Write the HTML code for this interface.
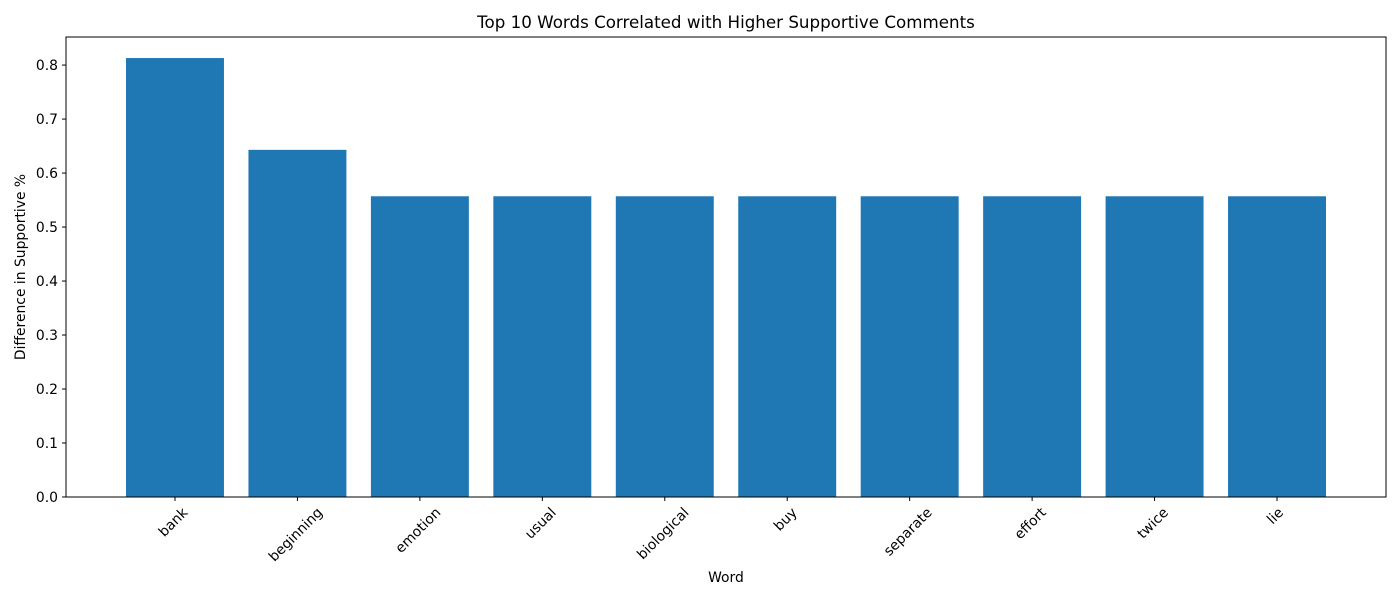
<!DOCTYPE html>
<html><head><meta charset="utf-8"><style>
body{margin:0;background:#fff;}
text{font-family:"DejaVu Sans","Liberation Sans",sans-serif;fill:#000;}
</style></head><body>
<svg id="chart" width="1400" height="600">
<rect width="1400" height="600" fill="#fff"/>
<text x="726" y="28" font-size="16.7" text-anchor="middle">Top 10 Words Correlated with Higher Supportive Comments</text>
<g id="bars"></g><g id="axes"></g>
<text x="726" y="582" font-size="13.9" text-anchor="middle">Word</text>
<text transform="translate(25,267) rotate(-90)" font-size="13.9" text-anchor="middle">Difference in Supportive %</text>
</svg>
<script>
const categories=["bank","beginning","emotion","usual","biological","buy","separate","effort","twice","lie"];
const values=[0.813,0.643,0.557,0.557,0.557,0.557,0.557,0.557,0.557,0.557];
const yTicks=[0,0.1,0.2,0.3,0.4,0.5,0.6,0.7,0.8];
const L=66,R=1386,T=37,B=497;
const xmin=-0.89,xmax=categories.length-1+0.89;
const ymax=0.852;
const ns="http://www.w3.org/2000/svg";
const xs=i=>L+(i-xmin)/(xmax-xmin)*(R-L);
const ys=v=>B-v/ymax*(B-T);
const step=(R-L)/(xmax-xmin);
const bars=document.getElementById('bars'),axes=document.getElementById('axes');
function mk(t,a,p){const e=document.createElementNS(ns,t);for(const k in a)e.setAttribute(k,a[k]);p.appendChild(e);return e;}
values.forEach((v,i)=>{
 const r=mk('rect',{x:xs(i)-0.4*step,y:ys(v),width:0.8*step,height:ys(0)-ys(v),fill:'#1f77b4'},bars);
 
 
 mk('line',{x1:xs(i),x2:xs(i),y1:B,y2:B+4,stroke:'#000'},axes);
 const t=mk('text',{x:0,y:4.8,'font-size':13.9,'text-anchor':'middle'},axes);
 t.textContent=categories[i];
 
 
 const w=t.getComputedTextLength(),h=13.9;
 const cy=B+8+(w+h)*0.3536;
 t.setAttribute('transform',`translate(${xs(i)-2},${cy}) rotate(-45)`);
});
yTicks.forEach(v=>{
 mk('line',{x1:L-4,x2:L,y1:ys(v),y2:ys(v),stroke:'#000'},axes);
 const t=mk('text',{x:L-8,y:ys(v)+4.8,'font-size':13.9,'text-anchor':'end'},axes);
 t.textContent=v.toFixed(1);
 
 
});
const f=mk('rect',{x:L,y:T,width:R-L,height:B-T,fill:'none',stroke:'#000','stroke-width':1},axes);


</script>
</body></html>
